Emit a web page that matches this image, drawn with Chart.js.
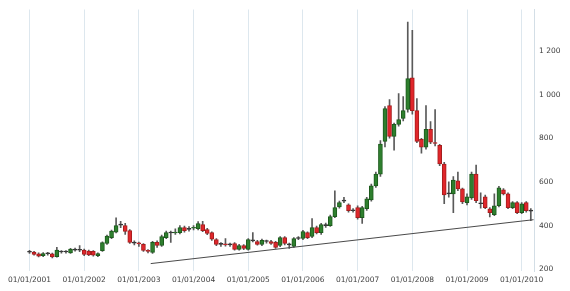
<!DOCTYPE html>
<html><head><meta charset="utf-8">
<script src="https://cdn.jsdelivr.net/npm/chart.js@4"></script>
<style>html,body{margin:0;padding:0;background:#fff;overflow:hidden}</style>
</head><body>
<canvas id="c" width="570" height="291"></canvas>
<script>
// Monthly candles, Jan 2001 .. Mar 2010 (index = months since Jan 2001)
const yearLabels = ['01/01/2001','01/01/2002','01/01/2003','01/01/2004','01/01/2005','01/01/2006','01/01/2007','01/01/2008','01/01/2009','01/01/2010'];
const yearStartIndex = [0,12,24,36,48,60,72,84,96,108];
const yTickValues = [200,400,600,800,1000,1200];

const opens = [
 280,279,271,262,271,271,258,280,279,275,288,287,
 288,283,282,262,285,318,345,370,402,400,377,323,
 320,314,286,277,323,309,345,368,366,368,391,383,
 388,386,405,382,368,336,314,316,312,318,291,309,
 291,332,327,314,327,327,323,309,345,314,305,341,
 341,368,350,391,368,400,400,441,486,512,495,468,
 482,436,477,518,582,636,786,950,809,864,891,932,
 1077,927,795,759,841,780,768,682,545,545,605,568,
 505,527,636,500,532,477,450,491,564,545,482,505,
 459,505,468];
const highs = [
 287,282,275,276,278,274,300,285,285,296,297,309,
 292,288,286,275,326,356,380,436,420,410,382,330,
 325,318,290,328,330,356,375,375,385,400,398,395,
 400,418,420,388,372,340,322,340,320,322,314,313,
 340,368,333,338,334,332,328,350,350,320,345,350,
 378,372,432,398,410,412,448,559,512,530,500,478,
 490,488,530,590,645,790,945,977,870,1005,991,1332,
 1295,982,800,950,877,932,772,690,600,625,645,572,
 545,645,677,550,540,482,545,580,570,550,510,510,
 505,510,478];
const lows = [
 272,265,256,258,265,252,255,274,274,272,283,280,
 262,262,260,258,282,314,340,366,390,360,318,312,
 305,282,275,272,300,305,340,323,360,362,370,375,
 380,380,372,358,332,308,305,306,305,288,287,290,
 288,325,310,308,320,314,296,304,312,295,300,336,
 336,340,345,362,360,392,396,436,480,505,462,462,
 430,410,470,512,575,625,760,800,745,855,880,920,
 910,780,732,750,775,765,675,500,530,459,560,500,
 495,520,505,480,478,440,445,486,540,478,478,455,
 455,462,423];
const closes = [
 278,268,260,272,272,256,288,279,280,292,291,288,
 268,266,264,272,322,352,375,400,405,373,323,320,
 316,286,282,323,309,350,368,366,370,391,377,386,
 392,409,377,364,338,314,316,312,314,291,309,295,
 336,330,314,332,328,318,300,345,318,312,341,343,
 373,345,391,368,405,402,441,482,505,514,468,470,
 436,482,523,582,636,773,936,809,864,886,927,1073,
 927,786,759,841,782,776,682,541,548,609,568,509,
 532,636,514,503,482,459,491,573,545,482,505,459,
 500,468,466];

// Support trend line (month index, value)
const trendIndex = [26.6, 110.6];
const trendValue = [226, 427];

const GREEN = '#2e7f2e', GREEN_B = '#1c5a1c';
const RED = '#e0262b', RED_B = '#a51d1d';
const DOJI = '#333333';

function bodyColor(i, border) {
  const d = closes[i] - opens[i];
  if (Math.abs(d) < 4) return DOJI;
  if (d > 0) return border ? GREEN_B : GREEN;
  return border ? RED_B : RED;
}

const wickData = lows.map((l, i) => ({x: i, y: [l, highs[i]]}));
const bodyData = opens.map((o, i) => ({x: i, y: [o, closes[i]]}));
const trendData = trendIndex.map((x, k) => ({x: x, y: trendValue[k]}));

const tickFont = {family: 'DejaVu Sans', size: 7.5};

new Chart(document.getElementById('c'), {
  type: 'bar',
  data: {
    datasets: [
      {
        type: 'bar', data: wickData, backgroundColor: '#5a5a5a',
        barThickness: 1, grouped: false, order: 3
      },
      {
        type: 'bar', data: bodyData,
        backgroundColor: ctx => bodyColor(ctx.dataIndex, false),
        borderColor: ctx => bodyColor(ctx.dataIndex, true),
        borderWidth: 1, borderSkipped: false, minBarLength: 1,
        barThickness: 4, grouped: false, order: 2
      },
      {
        type: 'line', data: trendData, borderColor: '#4a4a4a', borderWidth: 1,
        pointRadius: 0, fill: false, order: 1
      }
    ]
  },
  options: {
    responsive: false,
    animation: false,
    layout: {padding: {left: 27, top: 8, right: 0, bottom: 0}},
    plugins: {legend: {display: false}, tooltip: {enabled: false}},
    scales: {
      x: {
        type: 'linear', position: 'bottom', min: -0.55, max: 110.7, offset: false,
        grid: {color: '#dde7ee', lineWidth: 1, drawTicks: false, offset: false},
        border: {display: false},
        afterBuildTicks: s => { s.ticks = yearStartIndex.map(v => ({value: v})); },
        afterFit: s => { s.height = 20; },
        ticks: {
          font: tickFont, color: '#404040', padding: 5, autoSkip: false, maxRotation: 0,
          callback: v => { const k = yearStartIndex.indexOf(v); return k >= 0 ? yearLabels[k] : ''; }
        }
      },
      y: {
        type: 'linear', position: 'right', min: 192, max: 1390,
        grid: {display: false, drawTicks: false},
        border: {display: true, color: '#d3dee6'},
        afterBuildTicks: s => { s.ticks = yTickValues.map(v => ({value: v})); },
        afterFit: s => { s.width = 36; },
        ticks: {
          font: tickFont, color: '#404040', padding: 5,
          callback: v => v >= 1000 ? Math.floor(v / 1000) + ' ' + String(v % 1000).padStart(3, '0') : String(v)
        }
      }
    }
  }
});
</script>
</body></html>
